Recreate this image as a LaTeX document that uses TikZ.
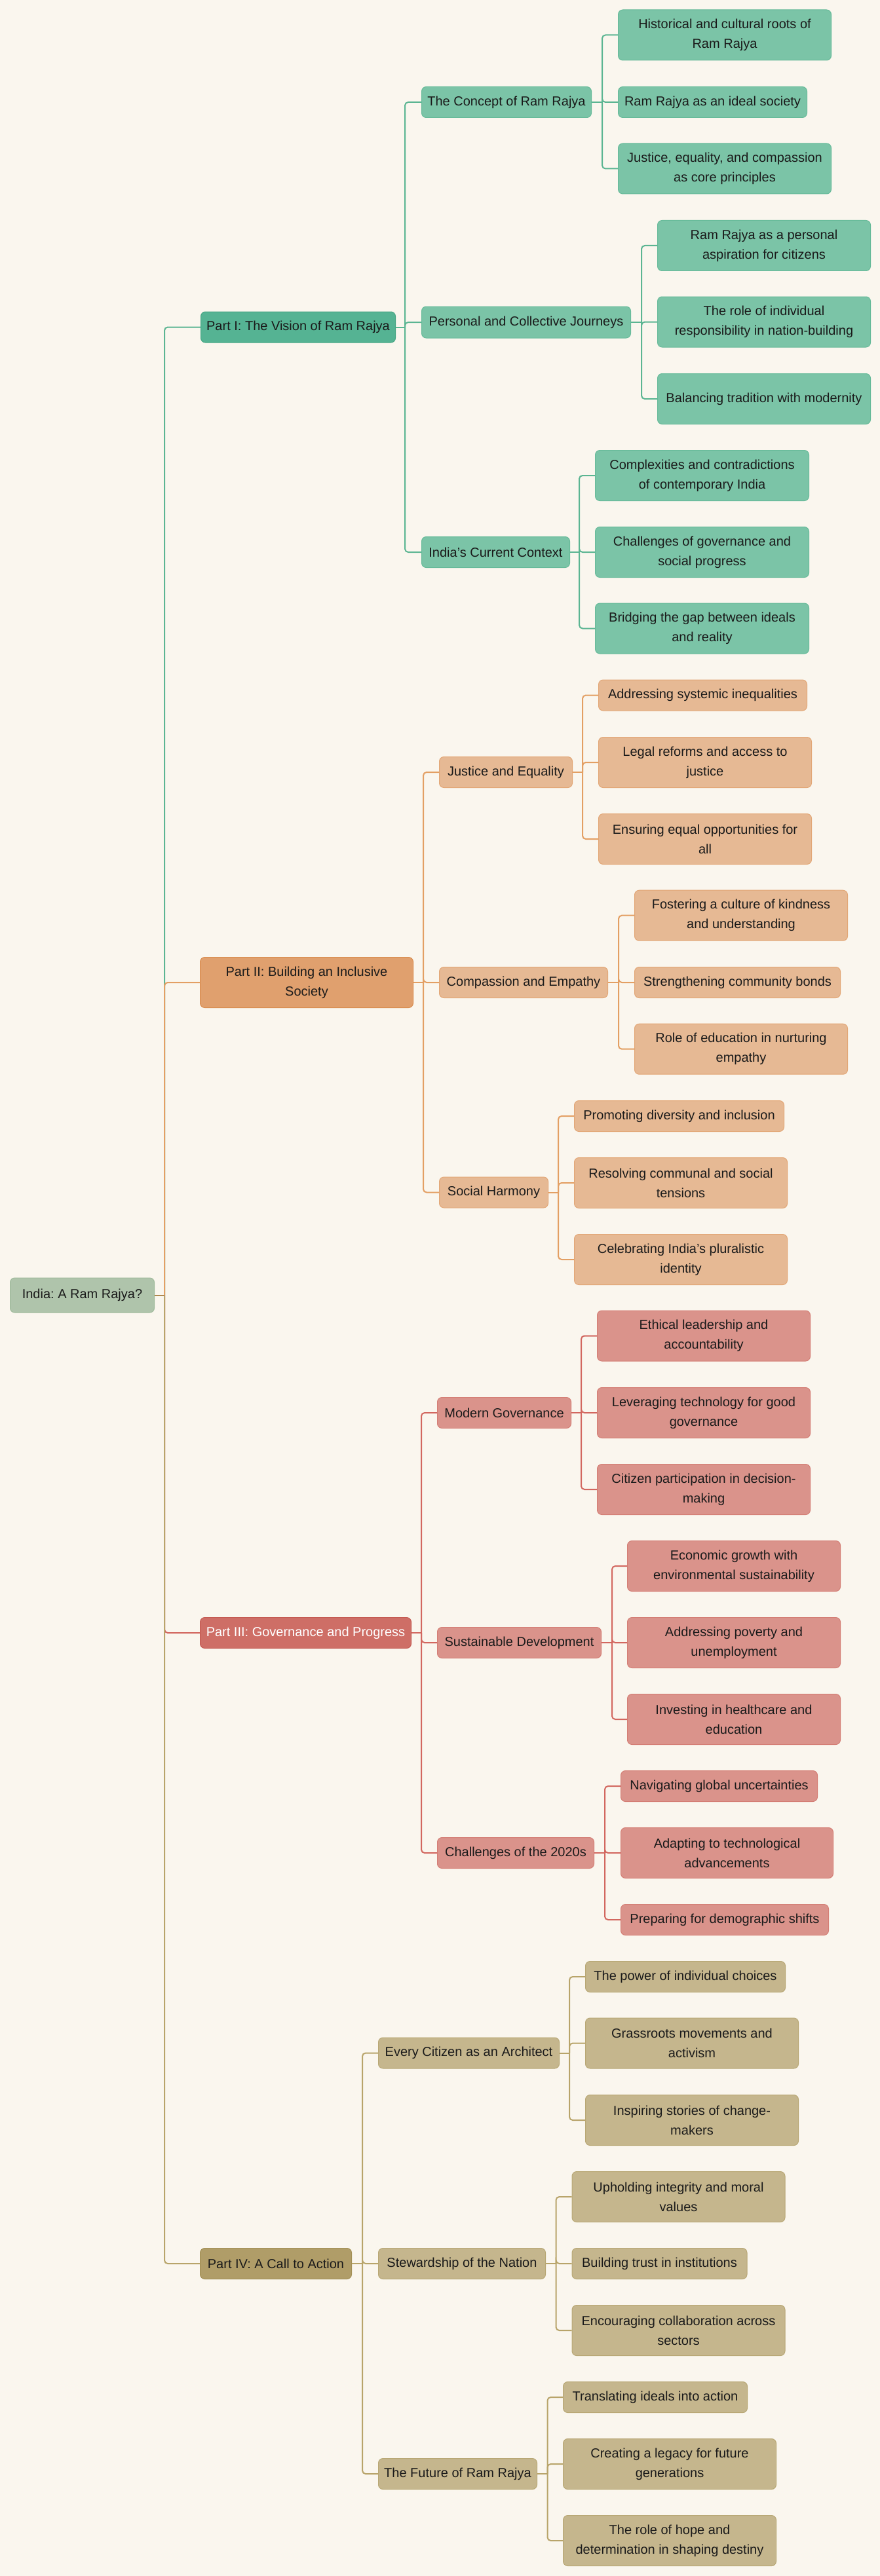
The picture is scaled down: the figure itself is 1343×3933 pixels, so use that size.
\documentclass[tikz,border=0pt]{standalone}
\usepackage{fontspec}
\setmainfont{Liberation Sans}
\frenchspacing
\definecolor{bg}{HTML}{FAF6EE}
\definecolor{rootfill}{HTML}{AFC4AB}
\definecolor{rootdraw}{HTML}{9FBA9B}
\definecolor{rootline}{HTML}{B0884F}
\definecolor{greenpart}{HTML}{55B393}
\definecolor{greenpartdraw}{HTML}{45A583}
\definecolor{greenleaf}{HTML}{7BC4A7}
\definecolor{greenleafdraw}{HTML}{66BA99}
\definecolor{greenline}{HTML}{5BB592}
\definecolor{orangepart}{HTML}{E0A06E}
\definecolor{orangepartdraw}{HTML}{D98C4E}
\definecolor{orangeleaf}{HTML}{E6B994}
\definecolor{orangeleafdraw}{HTML}{E2A675}
\definecolor{orangeline}{HTML}{E39F63}
\definecolor{redpart}{HTML}{CE6E66}
\definecolor{redpartdraw}{HTML}{C45A52}
\definecolor{redleaf}{HTML}{DA938B}
\definecolor{redleafdraw}{HTML}{D47E75}
\definecolor{redline}{HTML}{D2675F}
\definecolor{olivepart}{HTML}{B09D68}
\definecolor{olivepartdraw}{HTML}{A38F55}
\definecolor{oliveleaf}{HTML}{C5B68D}
\definecolor{oliveleafdraw}{HTML}{B8A774}
\definecolor{oliveline}{HTML}{B8A46A}
\definecolor{ink}{HTML}{1A1A1A}
\tikzstyle{box} = [rectangle, rounded corners=3.5pt,
anchor=west,
minimum height=23.5pt,
inner sep=3pt,
align=center,
line width=0.5pt,
text=ink]
\tikzstyle{tall} = [minimum height=38.5pt]
\tikzstyle{root_box} = [box, minimum height=26.5pt, draw=rootdraw, fill=rootfill]
\tikzstyle{green_part} = [box, draw=greenpartdraw, fill=greenpart]
\tikzstyle{green_leaf} = [box, draw=greenleafdraw, fill=greenleaf]
\tikzstyle{orange_part} = [box, draw=orangepartdraw, fill=orangepart]
\tikzstyle{orange_leaf} = [box, draw=orangeleafdraw, fill=orangeleaf]
\tikzstyle{red_part} = [box, draw=redpartdraw, fill=redpart, text=white]
\tikzstyle{red_leaf} = [box, draw=redleafdraw, fill=redleaf]
\tikzstyle{olive_part} = [box, draw=olivepartdraw, fill=olivepart]
\tikzstyle{olive_leaf} = [box, draw=oliveleafdraw, fill=oliveleaf]
\tikzstyle{green_edge} = [line width=1pt, rounded corners=2.5pt, draw=greenline]
\tikzstyle{orange_edge} = [line width=1pt, rounded corners=2.5pt, draw=orangeline]
\tikzstyle{red_edge} = [line width=1pt, rounded corners=2.5pt, draw=redline]
\tikzstyle{olive_edge} = [line width=1pt, rounded corners=2.5pt, draw=oliveline]
\tikzstyle{root_edge} = [line width=1pt, draw=rootline]

\begin{document}
\begin{tikzpicture}[x=0.5pt, y=-0.5pt, font=\fontsize{10pt}{15pt}\selectfont]

    \fill [bg] (0,0) rectangle (1343,3933);

    \node (root) [root_box, minimum width=110pt] at (15,1977.5) {India: A Ram Rajya?};

    % Part I
    \node (part_one) [green_part, minimum width=148.5pt] at (306,499.5) {Part I: The Vision of Ram Rajya};
    \node (concept) [green_leaf, minimum width=129.5pt] at (643,156) {The Concept of Ram Rajya};
    \node (journeys) [green_leaf, minimum width=159.5pt, minimum height=24pt] at (643,492) {Personal and Collective Journeys};
    \node (context) [green_leaf, minimum width=113pt] at (643,843) {India's Current Context};

    \node (hist_roots) [green_leaf, tall, minimum width=162.5pt] at (943,53.5) {Historical and cultural roots of\\Ram Rajya};
    \node (ideal_soc) [green_leaf, minimum width=144pt] at (943,156) {Ram Rajya as an ideal society};
    \node (core_prin) [green_leaf, tall, minimum width=162.5pt] at (943,257.5) {Justice, equality, and compassion\\as core principles};

    \node (aspiration) [green_leaf, tall, minimum width=162.5pt] at (1003,375) {Ram Rajya as a personal\\aspiration for citizens};
    \node (responsibility) [green_leaf, tall, minimum width=162.5pt] at (1003,491.5) {The role of individual\\responsibility in nation-building};
    \node (balancing) [green_leaf, tall, minimum width=162.5pt] at (1003,609) {Balancing tradition with modernity};

    \node (complexities) [green_leaf, tall, minimum width=163pt] at (908,726) {Complexities and contradictions\\of contemporary India};
    \node (gov_challenges) [green_leaf, tall, minimum width=163pt] at (908,843) {Challenges of governance and\\social progress};
    \node (bridging) [green_leaf, tall, minimum width=163pt] at (908,959.5) {Bridging the gap between ideals\\and reality};

    % Part II
    \node (part_two) [orange_part, tall, minimum width=162.5pt] at (305,1500) {Part II: Building an Inclusive\\Society};
    \node (justice) [orange_leaf, minimum width=101.5pt] at (670,1179) {Justice and Equality};
    \node (compassion) [orange_leaf, minimum width=128.5pt] at (670,1500) {Compassion and Empathy};
    \node (harmony) [orange_leaf, minimum width=83pt] at (670,1820.5) {Social Harmony};

    \node (inequalities) [orange_leaf, minimum width=159pt] at (913,1061.5) {Addressing systemic inequalities};
    \node (legal) [orange_leaf, tall, minimum width=162.5pt] at (913,1164) {Legal reforms and access to\\justice};
    \node (equal_opp) [orange_leaf, tall, minimum width=162.5pt] at (913,1281) {Ensuring equal opportunities for\\all};

    \node (kindness) [orange_leaf, tall, minimum width=162.5pt] at (968,1397.7) {Fostering a culture of kindness\\and understanding};
    \node (community) [orange_leaf, minimum width=157pt] at (968,1500) {Strengthening community bonds};
    \node (education_emp) [orange_leaf, tall, minimum width=162.5pt] at (968,1601.7) {Role of education in nurturing\\empathy};

    \node (diversity) [orange_leaf, minimum width=160pt] at (876,1704) {Promoting diversity and inclusion};
    \node (tensions) [orange_leaf, tall, minimum width=162.5pt] at (876,1806) {Resolving communal and social\\tensions};
    \node (pluralistic) [orange_leaf, tall, minimum width=162.5pt] at (876,1923) {Celebrating India’s pluralistic\\identity};

    % Part III
    \node (part_three) [red_part, minimum width=161pt] at (305,2493) {Part III: Governance and Progress};
    \node (modern_gov) [red_leaf, minimum width=102pt] at (667,2157) {Modern Governance};
    \node (sustainable) [red_leaf, minimum width=125pt] at (667,2508) {Sustainable Development};
    \node (challenges) [red_leaf, minimum width=119.5pt] at (667,2829) {Challenges of the 2020s};

    \node (ethical) [red_leaf, tall, minimum width=162.5pt] at (911,2039.5) {Ethical leadership and\\accountability};
    \node (technology) [red_leaf, tall, minimum width=162.5pt] at (911,2157) {Leveraging technology for good\\governance};
    \node (participation) [red_leaf, tall, minimum width=162.5pt] at (911,2274) {Citizen participation in decision-\\making};

    \node (economic) [red_leaf, tall, minimum width=162.5pt] at (957,2391) {Economic growth with\\environmental sustainability};
    \node (poverty) [red_leaf, tall, minimum width=162.5pt] at (957,2508) {Addressing poverty and\\unemployment};
    \node (healthcare) [red_leaf, tall, minimum width=162.5pt] at (957,2625) {Investing in healthcare and\\education};

    \node (uncertainties) [red_leaf, minimum width=150pt] at (947,2727) {Navigating global uncertainties};
    \node (tech_adv) [red_leaf, tall, minimum width=162pt] at (947,2829) {Adapting to technological\\advancements};
    \node (demographic) [red_leaf, minimum width=158.5pt] at (947,2931) {Preparing for demographic shifts};

    % Part IV
    \node (part_four) [olive_part, minimum width=115.5pt] at (305,3456) {Part IV: A Call to Action};
    \node (architect) [olive_leaf, minimum width=138pt] at (577,3134.5) {Every Citizen as an Architect};
    \node (stewardship) [olive_leaf, minimum width=127.5pt] at (577,3456) {Stewardship of the Nation};
    \node (future) [olive_leaf, minimum width=121pt] at (577,3777) {The Future of Ram Rajya};

    \node (choices) [olive_leaf, minimum width=152.5pt] at (893,3018) {The power of individual choices};
    \node (grassroots) [olive_leaf, tall, minimum width=162.5pt] at (893,3119.5) {Grassroots movements and\\activism};
    \node (changemakers) [olive_leaf, tall, minimum width=162.5pt] at (893,3237) {Inspiring stories of change-\\makers};

    \node (integrity) [olive_leaf, tall, minimum width=162.5pt] at (872.5,3354) {Upholding integrity and moral\\values};
    \node (trust) [olive_leaf, minimum width=133.5pt] at (872.5,3456) {Building trust in institutions};
    \node (collaboration) [olive_leaf, tall, minimum width=162.5pt] at (872.5,3558) {Encouraging collaboration across\\sectors};

    \node (translating) [olive_leaf, minimum width=140.5pt] at (859,3660) {Translating ideals into action};
    \node (legacy) [olive_leaf, tall, minimum width=162.5pt] at (859,3762) {Creating a legacy for future\\generations};
    \node (hope) [olive_leaf, tall, minimum width=162.5pt] at (859,3879) {The role of hope and\\determination in shaping destiny};

    % junctions
    \coordinate (root_j) at ([xshift=7.5pt]root.east);
    \coordinate (part_one_j) at ([xshift=7pt]part_one.east);
    \coordinate (concept_j) at ([xshift=8pt]concept.east);
    \coordinate (journeys_j) at ([xshift=8pt]journeys.east);
    \coordinate (context_j) at ([xshift=7pt]context.east);
    \coordinate (part_two_j) at ([xshift=7.5pt]part_two.east);
    \coordinate (justice_j) at ([xshift=7.5pt]justice.east);
    \coordinate (compassion_j) at ([xshift=8pt]compassion.east);
    \coordinate (harmony_j) at ([xshift=7.5pt]harmony.east);
    \coordinate (part_three_j) at ([xshift=7.5pt]part_three.east);
    \coordinate (modern_gov_j) at ([xshift=7.5pt]modern_gov.east);
    \coordinate (sustainable_j) at ([xshift=8pt]sustainable.east);
    \coordinate (challenges_j) at ([xshift=8pt]challenges.east);
    \coordinate (part_four_j) at ([xshift=8pt]part_four.east);
    \coordinate (architect_j) at ([xshift=7.5pt]architect.east);
    \coordinate (stewardship_j) at ([xshift=7.75pt]stewardship.east);
    \coordinate (future_j) at ([xshift=7.75pt]future.east);

    % root to parts
    \draw [green_edge] (root_j) |- (part_one.west);
    \draw [orange_edge] (root_j) |- (part_two.west);
    \draw [red_edge] (root_j) |- (part_three.west);
    \draw [olive_edge] (root_j) |- (part_four.west);
    \draw [root_edge] (root.east) -- (root_j);

    % Part I links
    \draw [green_edge] (part_one.east) -- (part_one_j);
    \draw [green_edge] (part_one_j) |- (concept.west);
    \draw [green_edge] (part_one_j) |- (journeys.west);
    \draw [green_edge] (part_one_j) |- (context.west);
    \draw [green_edge] (concept.east) -- (concept_j);
    \draw [green_edge] (concept_j) |- (hist_roots.west);
    \draw [green_edge] (concept_j) |- (ideal_soc.west);
    \draw [green_edge] (concept_j) |- (core_prin.west);
    \draw [green_edge] (journeys.east) -- (journeys_j);
    \draw [green_edge] (journeys_j) |- (aspiration.west);
    \draw [green_edge] (journeys_j) |- (responsibility.west);
    \draw [green_edge] (journeys_j) |- (balancing.west);
    \draw [green_edge] (context.east) -- (context_j);
    \draw [green_edge] (context_j) |- (complexities.west);
    \draw [green_edge] (context_j) |- (gov_challenges.west);
    \draw [green_edge] (context_j) |- (bridging.west);

    % Part II links
    \draw [orange_edge] (part_two.east) -- (part_two_j);
    \draw [orange_edge] (part_two_j) |- (justice.west);
    \draw [orange_edge] (part_two_j) |- (compassion.west);
    \draw [orange_edge] (part_two_j) |- (harmony.west);
    \draw [orange_edge] (justice.east) -- (justice_j);
    \draw [orange_edge] (justice_j) |- (inequalities.west);
    \draw [orange_edge] (justice_j) |- (legal.west);
    \draw [orange_edge] (justice_j) |- (equal_opp.west);
    \draw [orange_edge] (compassion.east) -- (compassion_j);
    \draw [orange_edge] (compassion_j) |- (kindness.west);
    \draw [orange_edge] (compassion_j) |- (community.west);
    \draw [orange_edge] (compassion_j) |- (education_emp.west);
    \draw [orange_edge] (harmony.east) -- (harmony_j);
    \draw [orange_edge] (harmony_j) |- (diversity.west);
    \draw [orange_edge] (harmony_j) |- (tensions.west);
    \draw [orange_edge] (harmony_j) |- (pluralistic.west);

    % Part III links
    \draw [red_edge] (part_three.east) -- (part_three_j);
    \draw [red_edge] (part_three_j) |- (modern_gov.west);
    \draw [red_edge] (part_three_j) |- (sustainable.west);
    \draw [red_edge] (part_three_j) |- (challenges.west);
    \draw [red_edge] (modern_gov.east) -- (modern_gov_j);
    \draw [red_edge] (modern_gov_j) |- (ethical.west);
    \draw [red_edge] (modern_gov_j) |- (technology.west);
    \draw [red_edge] (modern_gov_j) |- (participation.west);
    \draw [red_edge] (sustainable.east) -- (sustainable_j);
    \draw [red_edge] (sustainable_j) |- (economic.west);
    \draw [red_edge] (sustainable_j) |- (poverty.west);
    \draw [red_edge] (sustainable_j) |- (healthcare.west);
    \draw [red_edge] (challenges.east) -- (challenges_j);
    \draw [red_edge] (challenges_j) |- (uncertainties.west);
    \draw [red_edge] (challenges_j) |- (tech_adv.west);
    \draw [red_edge] (challenges_j) |- (demographic.west);

    % Part IV links
    \draw [olive_edge] (part_four.east) -- (part_four_j);
    \draw [olive_edge] (part_four_j) |- (architect.west);
    \draw [olive_edge] (part_four_j) |- (stewardship.west);
    \draw [olive_edge] (part_four_j) |- (future.west);
    \draw [olive_edge] (architect.east) -- (architect_j);
    \draw [olive_edge] (architect_j) |- (choices.west);
    \draw [olive_edge] (architect_j) |- (grassroots.west);
    \draw [olive_edge] (architect_j) |- (changemakers.west);
    \draw [olive_edge] (stewardship.east) -- (stewardship_j);
    \draw [olive_edge] (stewardship_j) |- (integrity.west);
    \draw [olive_edge] (stewardship_j) |- (trust.west);
    \draw [olive_edge] (stewardship_j) |- (collaboration.west);
    \draw [olive_edge] (future.east) -- (future_j);
    \draw [olive_edge] (future_j) |- (translating.west);
    \draw [olive_edge] (future_j) |- (legacy.west);
    \draw [olive_edge] (future_j) |- (hope.west);

  \end{tikzpicture}
\end{document}
